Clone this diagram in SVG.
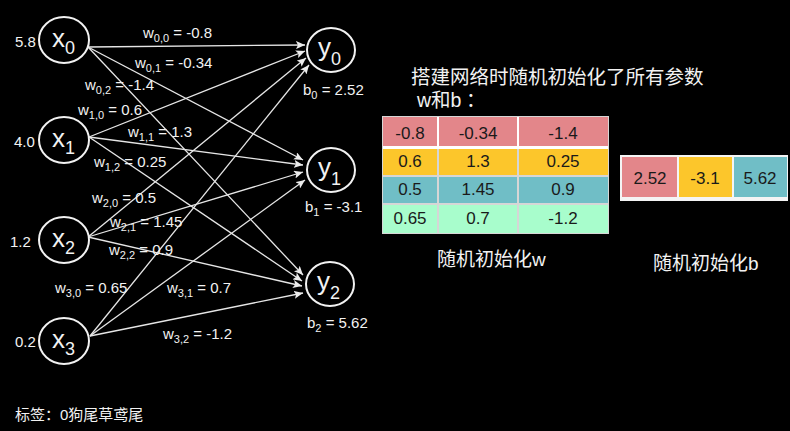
<svg xmlns="http://www.w3.org/2000/svg" width="790" height="431" viewBox="0 0 790 431">
<defs>
<marker id="ah" markerUnits="userSpaceOnUse" markerWidth="10" markerHeight="8" refX="9" refY="4" orient="auto">
<path d="M0,0 L9,4 L0,8 L2,4 Z" fill="#ececec"/>
</marker>
<style>
.node ellipse{fill:#000;stroke:#f2f2f2;stroke-width:2}
.nl{font-family:"Liberation Sans",Arial,sans-serif;font-size:26px;fill:#f2f2f2}
.sub{font-size:18px}
.lab{font-family:"Liberation Sans",Arial,sans-serif;font-size:15px;fill:#f2f2f2}
.ls{font-size:11px}
.edge line{stroke:#e6e6e6;stroke-width:1.3;marker-end:url(#ah)}
.cn{font-family:"Liberation Sans","Noto Sans CJK SC",sans-serif;fill:#f2f2f2}
.cell{font-family:"Liberation Sans",Arial,sans-serif;font-size:17px;fill:#1a1a1a;text-anchor:middle}
.pink{fill:#e3868a}.yel{fill:#fcc62b}.teal{fill:#70bec6}.mint{fill:#a8fdcc}
</style>
</defs>
<rect width="790" height="431" fill="#000"/>

<g id="connectors" class="edge">
<line x1="88" y1="47" x2="305" y2="45"/>
<line x1="88" y1="47" x2="303" y2="160"/>
<line x1="88" y1="47" x2="303" y2="275"/>
<line x1="89" y1="137" x2="305" y2="51"/>
<line x1="89" y1="137" x2="303" y2="165"/>
<line x1="89" y1="137" x2="302" y2="281"/>
<line x1="88" y1="237" x2="306" y2="58"/>
<line x1="88" y1="237" x2="303" y2="172"/>
<line x1="88" y1="237" x2="302" y2="286"/>
<line x1="90" y1="336" x2="309" y2="65"/>
<line x1="90" y1="336" x2="305" y2="180"/>
<line x1="90" y1="336" x2="303" y2="293"/>
</g>

<g id="edge-labels" class="lab">
<text x="143" y="38">w<tspan class="ls" dy="4">0,0</tspan><tspan dy="-4"> = -0.8</tspan></text>
<text x="135" y="68">w<tspan class="ls" dy="4">0,1</tspan><tspan dy="-4"> = -0.34</tspan></text>
<text x="85" y="90">w<tspan class="ls" dy="4">0,2</tspan><tspan dy="-4"> = -1.4</tspan></text>
<text x="78" y="115">w<tspan class="ls" dy="4">1,0</tspan><tspan dy="-4"> = 0.6</tspan></text>
<text x="128" y="137">w<tspan class="ls" dy="4">1,1</tspan><tspan dy="-4"> = 1.3</tspan></text>
<text x="94" y="167">w<tspan class="ls" dy="4">1,2</tspan><tspan dy="-4"> = 0.25</tspan></text>
<text x="92" y="203">w<tspan class="ls" dy="4">2,0</tspan><tspan dy="-4"> = 0.5</tspan></text>
<text x="110" y="227">w<tspan class="ls" dy="4">2,1</tspan><tspan dy="-4"> = 1.45</tspan></text>
<text x="109" y="255">w<tspan class="ls" dy="4">2,2</tspan><tspan dy="-4"> = 0.9</tspan></text>
<text x="55" y="293">w<tspan class="ls" dy="4">3,0</tspan><tspan dy="-4"> = 0.65</tspan></text>
<text x="167" y="293">w<tspan class="ls" dy="4">3,1</tspan><tspan dy="-4"> = 0.7</tspan></text>
<text x="163" y="339">w<tspan class="ls" dy="4">3,2</tspan><tspan dy="-4"> = -1.2</tspan></text>
</g>

<g id="x0" class="node"><ellipse cx="64" cy="40" rx="25" ry="23"/><text class="nl" x="52" y="47">x<tspan class="sub" dy="7">0</tspan></text><text class="lab" x="15" y="47">5.8</text></g>
<g id="x1" class="node"><ellipse cx="64" cy="140" rx="25" ry="23"/><text class="nl" x="52" y="147">x<tspan class="sub" dy="7">1</tspan></text><text class="lab" x="14" y="147">4.0</text></g>
<g id="x2" class="node"><ellipse cx="64" cy="240" rx="25" ry="23"/><text class="nl" x="52" y="247">x<tspan class="sub" dy="7">2</tspan></text><text class="lab" x="10" y="247">1.2</text></g>
<g id="x3" class="node"><ellipse cx="64" cy="341" rx="25" ry="23"/><text class="nl" x="52" y="348">x<tspan class="sub" dy="7">3</tspan></text><text class="lab" x="15" y="347">0.2</text></g>

<g id="y0" class="node"><ellipse cx="331" cy="50" rx="24" ry="22"/><text class="nl" x="318" y="56">y<tspan class="sub" dy="9">0</tspan></text><text class="lab" x="303" y="95">b<tspan class="ls" dy="4">0</tspan><tspan dy="-4"> = 2.52</tspan></text></g>
<g id="y1" class="node"><ellipse cx="331" cy="170" rx="24" ry="22"/><text class="nl" x="318" y="176">y<tspan class="sub" dy="9">1</tspan></text><text class="lab" x="305" y="212">b<tspan class="ls" dy="4">1</tspan><tspan dy="-4"> = -3.1</tspan></text></g>
<g id="y2" class="node"><ellipse cx="330" cy="284" rx="24" ry="22"/><text class="nl" x="317" y="290">y<tspan class="sub" dy="9">2</tspan></text><text class="lab" x="307" y="328">b<tspan class="ls" dy="4">2</tspan><tspan dy="-4"> = 5.62</tspan></text></g>

<g id="title" class="cn">
<text x="411" y="84" font-size="19.5">搭建网络时随机初始化了所有参数</text>
<text x="417" y="107" font-size="19.5">w和b</text>
<text x="466" y="107" font-size="19.5">：</text>
</g>

<g id="weight-table">
<rect x="382" y="116" width="227" height="118" fill="#d6d6d6"/>
<rect x="383" y="117" width="225" height="29" fill="#fff"/>
<rect class="pink" x="383" y="117" width="54" height="29"/>
<rect class="pink" x="439" y="117" width="78" height="29"/>
<rect class="pink" x="519" y="117" width="89" height="29"/>
<rect x="383" y="146" width="225" height="3" fill="#fff"/>
<rect class="yel" x="383" y="149" width="54" height="26"/>
<rect class="yel" x="439" y="149" width="78" height="26"/>
<rect class="yel" x="519" y="149" width="89" height="26"/>
<rect class="teal" x="383" y="177" width="54" height="26"/>
<rect class="teal" x="439" y="177" width="78" height="26"/>
<rect class="teal" x="519" y="177" width="89" height="26"/>
<rect class="mint" x="383" y="205" width="54" height="28"/>
<rect class="mint" x="439" y="205" width="78" height="28"/>
<rect class="mint" x="519" y="205" width="89" height="28"/>
<text class="cell" x="410" y="139">-0.8</text><text class="cell" x="478" y="139">-0.34</text><text class="cell" x="563" y="139">-1.4</text>
<text class="cell" x="410" y="167">0.6</text><text class="cell" x="478" y="167">1.3</text><text class="cell" x="563" y="167">0.25</text>
<text class="cell" x="410" y="195">0.5</text><text class="cell" x="478" y="195">1.45</text><text class="cell" x="563" y="195">0.9</text>
<text class="cell" x="410" y="224">0.65</text><text class="cell" x="478" y="224">0.7</text><text class="cell" x="563" y="224">-1.2</text>
<text class="cn" x="437" y="266" font-size="19">随机初始化w</text>
</g>

<g id="bias-table">
<rect x="620" y="155" width="168" height="46" fill="#f4f4f4"/>
<rect class="pink" x="622" y="157" width="55" height="40"/>
<rect class="yel" x="679" y="157" width="53" height="40"/>
<rect class="teal" x="734" y="157" width="53" height="40"/>
<text class="cell" x="650" y="184">2.52</text>
<text class="cell" x="705" y="184">-3.1</text>
<text class="cell" x="760" y="184">5.62</text>
<text class="cn" x="653" y="270" font-size="19">随机初始化b</text>
</g>

<g id="footer" class="cn"><text x="15" y="420" font-size="15">标签：0狗尾草鸢尾</text></g>
</svg>
